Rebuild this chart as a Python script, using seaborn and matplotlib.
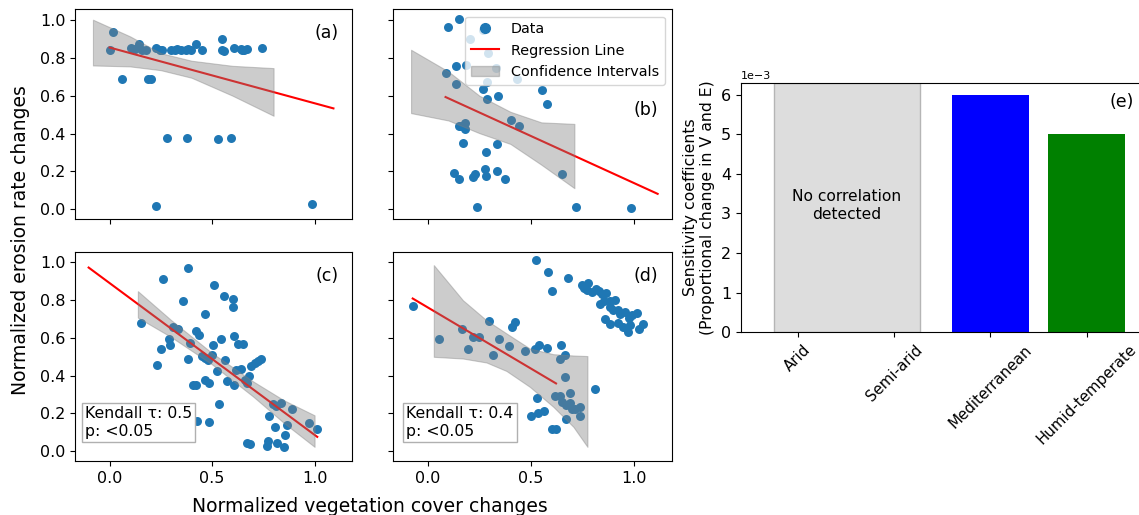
import numpy as np
import matplotlib
matplotlib.use("Agg")
import matplotlib.pyplot as plt
import seaborn as sns
from matplotlib.lines import Line2D
from matplotlib.patches import Patch

# ---------------- data ----------------
a_x = [0.0, 0.019, 0.062, 0.105, 0.125, 0.146, 0.157, 0.18, 0.19, 0.20,
       0.227, 0.225, 0.246, 0.254, 0.279, 0.30, 0.319, 0.331, 0.347, 0.371,
       0.384, 0.395, 0.42, 0.452, 0.379, 0.53, 0.549, 0.549, 0.557, 0.59,
       0.606, 0.643, 0.647, 0.656, 0.668, 0.746, 0.987]
a_y = [0.843, 0.935, 0.688, 0.852, 0.847, 0.873, 0.843, 0.84, 0.688, 0.688,
       0.85, 0.019, 0.843, 0.84, 0.379, 0.843, 0.843, 0.845, 0.843, 0.843,
       0.845, 0.84, 0.873, 0.84, 0.379, 0.37, 0.9, 0.843, 0.834, 0.379,
       0.85, 0.847, 0.843, 0.84, 0.845, 0.85, 0.028]

b_x = [0.097, 0.149, 0.266, 0.206, 0.292, 0.183, 0.329, 0.138, 0.086, 0.138,
       0.288, 0.43, 0.267, 0.288, 0.34, 0.551, 0.575, 0.405, 0.443, 0.149,
       0.162, 0.178, 0.178, 0.17, 0.335, 0.28, 0.125, 0.149, 0.219, 0.227,
       0.276, 0.28, 0.335, 0.376, 0.648, 0.238, 0.716, 0.984]
b_y = [0.963, 1.005, 0.945, 0.9, 0.825, 0.76, 0.746, 0.755, 0.72, 0.663,
       0.67, 0.688, 0.635, 0.584, 0.6, 0.628, 0.556, 0.473, 0.44, 0.44,
       0.44, 0.455, 0.425, 0.35, 0.344, 0.302, 0.19, 0.16, 0.168, 0.187,
       0.212, 0.178, 0.203, 0.16, 0.185, 0.014, 0.014, 0.005]

c_x = [0.154, 0.233, 0.25, 0.263, 0.292, 0.295, 0.311, 0.335, 0.357, 0.384,
       0.381, 0.392, 0.405, 0.421, 0.425, 0.421, 0.438, 0.465, 0.449, 0.465,
       0.465, 0.485, 0.485, 0.481, 0.498, 0.506, 0.509, 0.522, 0.533, 0.546,
       0.562, 0.559, 0.571, 0.6, 0.603, 0.606, 0.606, 0.619, 0.627, 0.652,
       0.643, 0.66, 0.671, 0.668, 0.687, 0.679, 0.692, 0.708, 0.724, 0.737,
       0.768, 0.773, 0.778, 0.806, 0.797, 0.814, 0.838, 0.817, 0.849, 0.854,
       0.867, 0.888, 0.972, 1.013]
c_y = [0.677, 0.456, 0.541, 0.912, 0.592, 0.562, 0.659, 0.645, 0.797, 0.973,
       0.488, 0.571, 0.35, 0.35, 0.161, 0.638, 0.618, 0.726, 0.504, 0.495,
       0.376, 0.359, 0.155, 0.482, 0.509, 0.562, 0.883, 0.426, 0.249, 0.592,
       0.482, 0.822, 0.373, 0.804, 0.765, 0.61, 0.35, 0.429, 0.567, 0.567,
       0.438, 0.376, 0.359, 0.041, 0.037, 0.399, 0.45, 0.465, 0.477, 0.488,
       0.027, 0.053, 0.186, 0.129, 0.249, 0.239, 0.253, 0.041, 0.023, 0.085,
       0.138, 0.221, 0.147, 0.12]

d_x = [-0.073, 0.053, 0.167, 0.194, 0.219, 0.248, 0.297, 0.316, 0.345, 0.394,
       0.41, 0.421, 0.47, 0.519, 0.54, 0.575, 0.522, 0.583, 0.6, 0.678,
       0.645, 0.64, 0.665, 0.665, 0.81, 0.53, 0.499, 0.535, 0.562, 0.6,
       0.62, 0.616, 0.64, 0.648, 0.669, 0.689, 0.689, 0.697, 0.713, 0.737,
       0.669, 0.737,
       0.746, 0.757, 0.778, 0.77, 0.794, 0.815, 0.831, 0.843, 0.864, 0.835,
       0.854, 0.883, 0.908, 0.88, 0.899, 0.919, 0.932, 0.956, 0.972, 0.989,
       1.013, 0.859, 0.883, 0.919, 0.945, 0.968, 0.977, 1.021, 1.042]
d_y = [0.77, 0.594, 0.647, 0.539, 0.606, 0.606, 0.689, 0.512, 0.592, 0.558,
       0.659, 0.686, 0.532, 0.539, 0.562, 0.549, 1.012, 0.951, 0.85, 0.92,
       0.565, 0.491, 0.509, 0.394, 0.329, 0.284, 0.186, 0.203, 0.214, 0.115,
       0.115, 0.293, 0.293, 0.261, 0.244, 0.306, 0.253, 0.226, 0.226, 0.235,
       0.17, 0.187,
       0.88, 0.867, 0.889, 0.853, 0.845, 0.857, 0.85, 0.832, 0.839, 0.779,
       0.795, 0.797, 0.8, 0.765, 0.747, 0.747, 0.726, 0.739, 0.708, 0.721,
       0.73, 0.698, 0.673, 0.68, 0.659, 0.633, 0.668, 0.65, 0.673]

# regression lines (end points)
a_line_x = [0.0, 1.092]
a_line_y = [0.855, 0.533]
b_line_x = [0.086, 1.113]
b_line_y = [0.593, 0.081]
c_line_x = [-0.102, 1.013]
c_line_y = [0.973, 0.076]
d_line_x = [-0.073, 0.621]
d_line_y = [0.809, 0.359]

# confidence bands
a_band_x = [-0.081, 0.1, 0.25, 0.4, 0.6, 0.8]
a_band_lo = [0.76, 0.755, 0.735, 0.695, 0.6, 0.494]
a_band_hi = [1.002, 0.914, 0.825, 0.785, 0.758, 0.746]
b_band_x = [-0.081, 0.1, 0.25, 0.4, 0.55, 0.71]
b_band_lo = [0.508, 0.469, 0.402, 0.345, 0.235, 0.111]
b_band_hi = [0.843, 0.728, 0.6, 0.515, 0.459, 0.451]
c_band_x = [0.138, 0.3, 0.5, 0.7, 0.85, 1.0]
c_band_lo = [0.708, 0.605, 0.46, 0.29, 0.15, 0.023]
c_band_hi = [0.848, 0.695, 0.52, 0.37, 0.27, 0.19]
d_band_x = [0.029, 0.17, 0.284, 0.381, 0.494, 0.608, 0.705, 0.773]
d_band_lo = [0.5, 0.491, 0.47, 0.425, 0.341, 0.235, 0.129, 0.023]
d_band_hi = [0.986, 0.8, 0.694, 0.624, 0.544, 0.514, 0.507, 0.504]

panel_labels = ["(a)", "(b)", "(c)", "(d)"]
kendall_text = {"(c)": "Kendall τ: 0.5\np: <0.05", "(d)": "Kendall τ: 0.4\np: <0.05"}

regions = ["Arid", "Semi-arid", "Mediterranean", "Humid-temperate"]
sensitivity = [0.0, 0.0, 0.006, 0.005]
region_colors = ["#dddddd", "#dddddd", "blue", "green"]
no_corr_text = "No correlation\ndetected"

# ---------------- figure ----------------
fig = plt.figure(figsize=(11.39, 5.15), dpi=100)
W, H = 1139, 515

def rect(l, r, t, b):
    return [l / W, 1 - b / H, (r - l) / W, (b - t) / H]

ax_a = fig.add_axes(rect(75.3, 352.3, 9.3, 219))
ax_b = fig.add_axes(rect(393.3, 672.3, 9.3, 219), sharex=ax_a, sharey=ax_a)
ax_c = fig.add_axes(rect(75.3, 352.3, 251.7, 461), sharex=ax_a, sharey=ax_a)
ax_d = fig.add_axes(rect(393.3, 672.3, 251.7, 461), sharex=ax_a, sharey=ax_a)
ax_e = fig.add_axes(rect(741, 1143.5, 82.7, 332.3))

panels = [
    (ax_a, a_x, a_y, a_line_x, a_line_y, a_band_x, a_band_lo, a_band_hi),
    (ax_b, b_x, b_y, b_line_x, b_line_y, b_band_x, b_band_lo, b_band_hi),
    (ax_c, c_x, c_y, c_line_x, c_line_y, c_band_x, c_band_lo, c_band_hi),
    (ax_d, d_x, d_y, d_line_x, d_line_y, d_band_x, d_band_lo, d_band_hi),
]

for (ax, x, y, lx, ly, bx, blo, bhi), lab in zip(panels, panel_labels):
    sns.scatterplot(x=x, y=y, ax=ax, s=42, color="#1f77b4", linewidth=0,
                    label="Data", legend=False, zorder=2)
    sns.lineplot(x=lx, y=ly, ax=ax, color="red", linewidth=1.5,
                 label="Regression Line", legend=False, zorder=3)
    ax.fill_between(bx, blo, bhi, color="gray", alpha=0.4, linewidth=0.8,
                    label="Confidence Intervals", zorder=4)
    ypos = 0.52 if lab == "(b)" else 0.885
    ax.text(0.95, ypos, lab, transform=ax.transAxes, ha="right", va="center",
            fontsize=12.5)
    if lab in kendall_text:
        xoff = 0.024 if lab == "(c)" else 0.036
        ax.text(xoff + 0.01, 0.105, kendall_text[lab], transform=ax.transAxes,
                ha="left", va="bottom", fontsize=11.3, linespacing=1.25,
                bbox=dict(boxstyle="square,pad=0.2", facecolor="white",
                          edgecolor="#b0b0b0", linewidth=1), zorder=6)
    ax.tick_params(labelsize=11.5)
    ax.set_xlabel("")
    ax.set_ylabel("")

ax_a.set_xlim(-0.167, 1.184)
ax_a.set_ylim(-0.052, 1.057)
ax_a.set_xticks([0.0, 0.5, 1.0])
ax_a.set_yticks([0.0, 0.2, 0.4, 0.6, 0.8, 1.0])
for ax in (ax_a, ax_b):
    ax.tick_params(labelbottom=False)
for ax in (ax_b, ax_d):
    ax.tick_params(labelleft=False)

handles = [
    Line2D([], [], marker="o", linestyle="none", markersize=7,
           markerfacecolor="#1f77b4", markeredgecolor="#1f77b4"),
    Line2D([], [], color="red", linewidth=1.5),
    Patch(facecolor="gray", alpha=0.4, edgecolor="gray"),
]
ax_b.legend(handles, ["Data", "Regression Line", "Confidence Intervals"],
            loc="upper right", fontsize=10.4, framealpha=0.8)

fig.text(0.0176, 0.534, "Normalized erosion rate changes", rotation=90,
         ha="center", va="center", fontsize=13.5)
fig.text(0.325, 0.0064, "Normalized vegetation cover changes",
         ha="center", va="baseline", fontsize=13.5)

# panel (e)
ax_e.axvspan(-0.25, 1.27, facecolor="#dddddd", edgecolor="#b5b5b5",
             linewidth=1, zorder=0)
sns.barplot(x=regions, y=sensitivity, hue=regions, palette=region_colors,
            ax=ax_e, saturation=1, width=0.8, legend=False, zorder=2)
ax_e.set_xlim(-0.59, 3.59)
ax_e.set_ylim(0, 0.0063)
ax_e.ticklabel_format(axis="y", style="sci", scilimits=(-3, -3))
ax_e.yaxis.get_offset_text().set_fontsize(8)
ax_e.tick_params(axis="y", labelsize=11.5)
ax_e.tick_params(axis="x", labelsize=10.8)
ax_e.set_xticks(range(len(regions)))
ax_e.set_xticklabels(regions, rotation=45, ha="center")
ax_e.set_ylabel("Sensitivity coefficients\n(Proportional change in V and E)",
                fontsize=11.3)
ax_e.set_xlabel("")
ax_e.text(0.51, 0.0032, no_corr_text, ha="center", va="center", fontsize=11.2,
          linespacing=1.3)
ax_e.text(0.975, 0.924, "(e)", transform=ax_e.transAxes, ha="right",
          va="center", fontsize=12.5)

fig.savefig("out.png", dpi=100)
